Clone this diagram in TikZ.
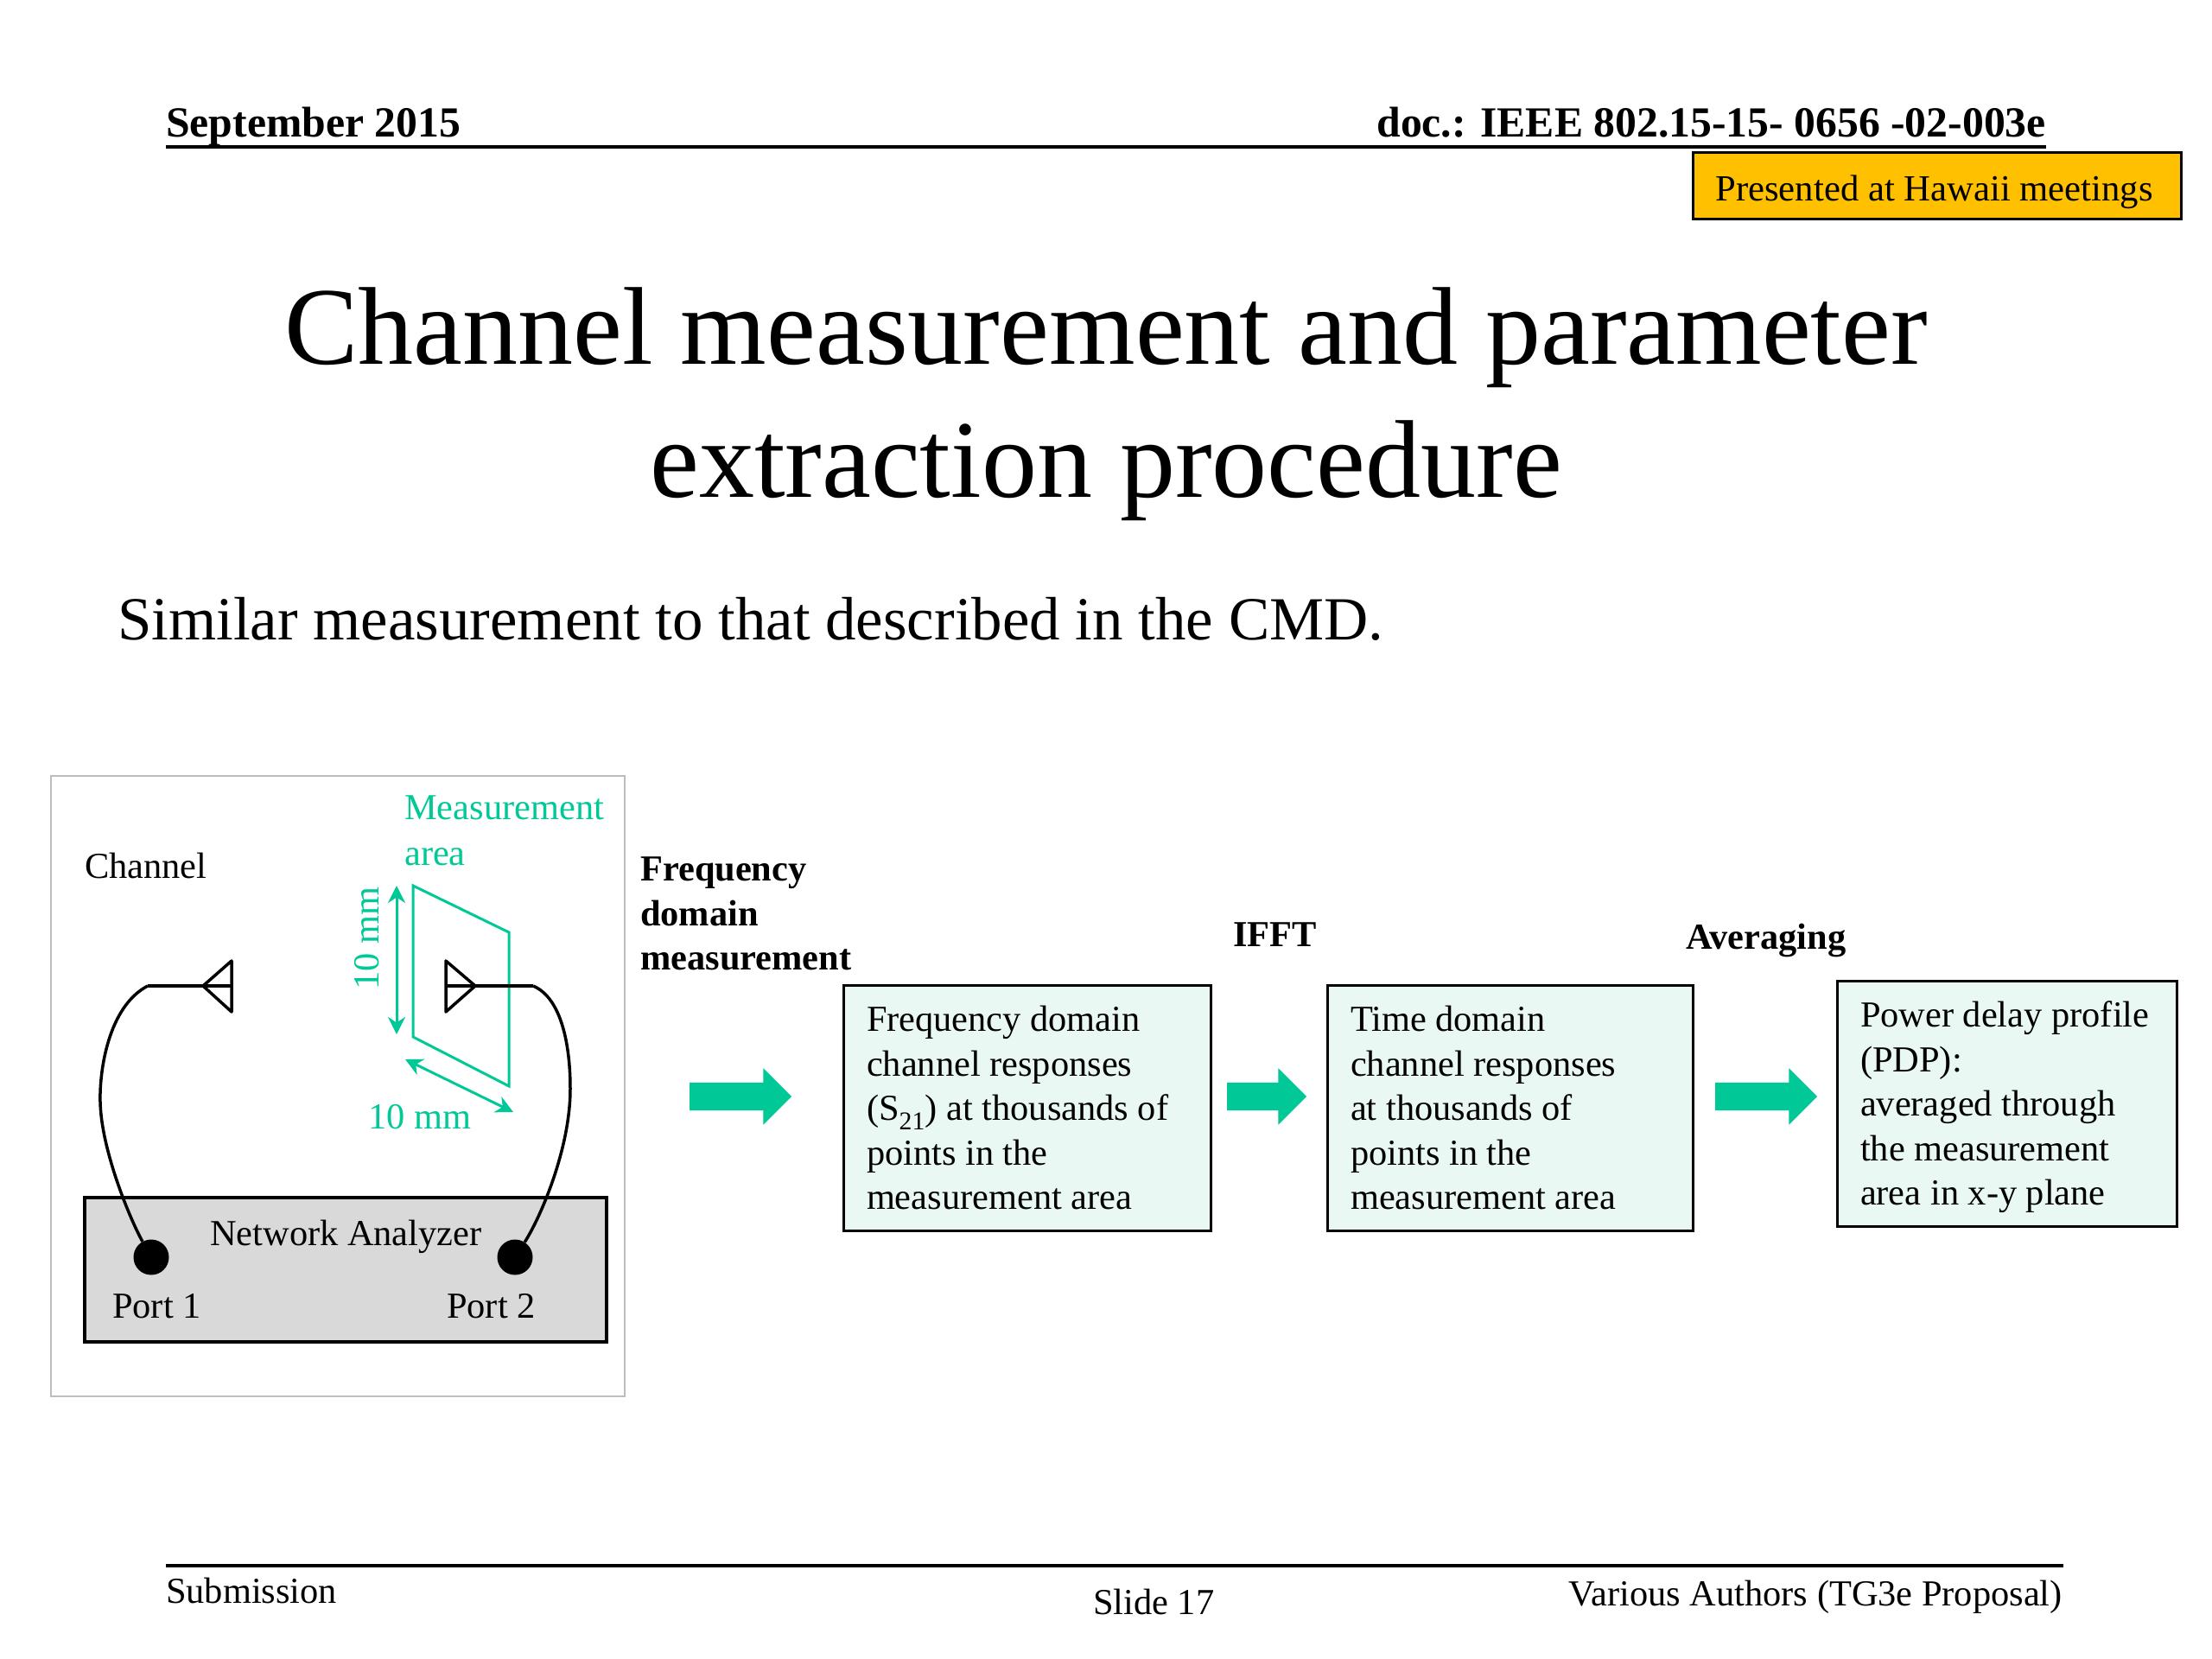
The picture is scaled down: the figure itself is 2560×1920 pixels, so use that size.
\documentclass[tikz,border=0pt]{standalone}
\usepackage{fontspec}
\setmainfont{Liberation Serif}
\usetikzlibrary{arrows.meta,shapes.arrows}
\definecolor{teal1}{HTML}{00C896}
\definecolor{boxfill}{HTML}{EAF8F4}
\definecolor{gold}{HTML}{FFC000}
\definecolor{nagray}{HTML}{D9D9D9}
\definecolor{framegray}{HTML}{BDBDBD}
\newcommand{\fs}[2]{\fontsize{#1}{#2}\selectfont}
\tikzset{
  lbl/.style={anchor=base west,inner sep=0pt,font=\fs{42.4}{52}},
  lblb/.style={anchor=base west,inner sep=0pt,align=left,font=\fs{42.4}{51.5}\bfseries},
  glbl/.style={lbl,text=teal1},
  head/.style={anchor=base west,inner sep=0pt,font=\fs{49.7}{56}\bfseries},
  foot/.style={anchor=base west,inner sep=0pt,font=\fs{42.4}{50}},
  stepbox/.style={draw=black,line width=3pt,fill=boxfill,inner sep=0pt,text width=#1,align=flush left,font=\fs{42.4}{51.5}},
  flow/.style={single arrow,fill=teal1,inner sep=0pt,text height=32pt,text depth=0pt,text width=0pt,single arrow head extend=16.5pt,minimum width=65pt},
  wire/.style={line width=3.5pt,black},
  garrow/.style={teal1,line width=3pt,{Stealth[length=20pt,width=20pt]}-{Stealth[length=20pt,width=20pt]}},
  port/.style={circle,fill=black,inner sep=0pt,minimum size=41pt},
}
\begin{document}
\begin{tikzpicture}[x=1pt,y=-1pt]
\useasboundingbox (0,0) rectangle (2560,1920);
\fill[white] (0,0) rectangle (2560,1920);
% header
\node[head] (date) at (192,158) {September 2015};
\node[head,anchor=base east] (doc) at (2368,158) {doc.: IEEE 802.15-15- 0656 -02-003e};
\coordinate (hl) at (192,170); \coordinate (hr) at (2368,170);
\draw[line width=3.5pt] (hl) -- (hr);
\node[draw=black,line width=3pt,fill=gold,minimum width=565pt,minimum height=77pt,inner sep=0pt,font=\fs{42.7}{50}] (badge) at (2241.5,215) {\hspace*{-6pt}\raisebox{-17pt}[0pt][0pt]{Presented at Hawaii meetings}};
% title
\node[inner sep=0pt,anchor=base] (t1) at (1280,421) {\fs{128}{150}Channel measurement and parameter};
\node[inner sep=0pt,anchor=base] (t2) at (1280,575) {\fs{128}{150}extraction procedure};
\node[inner sep=0pt,anchor=base west] (sub) at (136,740) {\fs{70.9}{80}Similar measurement to that described in the CMD.};
% left frame
\node[draw=framegray,line width=2.5pt,minimum width=664pt,minimum height=718pt,inner sep=0pt] (frame) at (391,1257) {};
\node[lbl] (chan) at (98,1016) {Channel};
\node[glbl] (meas) at (468,948) {Measurement};
\node[glbl] (area) at (468,1001) {area};
% analyzer
\node[draw=black,line width=3.5pt,fill=nagray,minimum width=604pt,minimum height=167pt,inner sep=0pt] (na) at (400,1469.5) {};
\node[lbl] (natext) at (243,1441) {Network Analyzer};
\node[lbl] (p1t) at (130,1525) {Port 1};
\node[lbl] (p2t) at (517,1525) {Port 2};
\node[port] (p1) at (175,1455) {};
\node[port] (p2) at (596,1455) {};
% measurement area
\draw[teal1,line width=3pt] (478,1025) -- (589,1079) -- (589,1257) -- (478,1200) -- cycle;
\coordinate (va) at (459,1025); \coordinate (vb) at (459,1197);
\draw[garrow] (va) -- (vb);
\coordinate (da) at (469,1226); \coordinate (db) at (594,1287);
\draw[garrow] (da) -- (db);
\node[glbl,anchor=base,rotate=90] (v10) at (438,1086) {10 mm};
\node[glbl] (h10) at (426,1306) {10 mm};
% antennas
\coordinate (la) at (235,1141); \coordinate (lb) at (268,1141);
\coordinate (ra) at (550,1141); \coordinate (rb) at (516,1141);
\coordinate (lj) at (171,1141); \coordinate (rj) at (617,1141);
\draw[wire,line join=round] (268,1112) -- (la) -- (268,1171) -- cycle;
\draw[wire,line join=round] (516,1112) -- (ra) -- (516,1171) -- cycle;
\draw[wire] (lj) -- (lb);
\draw[wire] (rb) -- (rj);
\draw[wire] (lj) .. controls (125,1165) and (115,1240) .. (116,1275) .. controls (117,1330) and (150,1410) .. (p1);
\draw[wire] (rj) .. controls (650,1155) and (660,1210) .. (660,1260) .. controls (660,1330) and (625,1410) .. (p2);
% flow labels
\node[lblb] (l1) at (741,1019) {Frequency};
\node[lblb] (l1b) at (741,1071) {domain};
\node[lblb] (l1c) at (741,1122) {measurement};
\node[lblb] (l2) at (1427,1095) {IFFT};
\node[lblb] (l3) at (1951,1098) {Averaging};
% boxes
\node[stepbox=371pt,minimum width=425pt,minimum height=284pt] (b1) at (1188.5,1282) {Frequency domain\\channel responses\\(S\textsubscript{21}) at thousands of\\points in the\\measurement area};
\node[stepbox=369pt,minimum width=423pt,minimum height=284pt] (b2) at (1747.5,1282) {Time domain\\channel responses\\at thousands of\\points in the\\measurement area};
\node[stepbox=339pt,minimum width=393pt,minimum height=284pt] (b3) at (2322.5,1277) {\rule{0pt}{39pt}Power delay profile\\(PDP):\\averaged through\\the measurement\\area in x-y plane};
% flow arrows
\node[flow,minimum height=118pt] (a1) at (849,1269) {};
\node[flow,minimum height=92pt] (a2) at (1458,1269) {};
\node[flow,minimum height=118pt] (a3) at (2036,1269) {};
% footer
\coordinate (fl) at (192,1812); \coordinate (fr) at (2388,1812);
\draw[line width=3.5pt] (fl) -- (fr);
\node[foot] (sm) at (192,1855) {Submission};
\node[foot] (sl) at (1265,1868) {Slide 17};
\node[foot,anchor=base east] (va2) at (2387,1858) {Various Authors (TG3e Proposal)};
\end{tikzpicture}
\end{document}
